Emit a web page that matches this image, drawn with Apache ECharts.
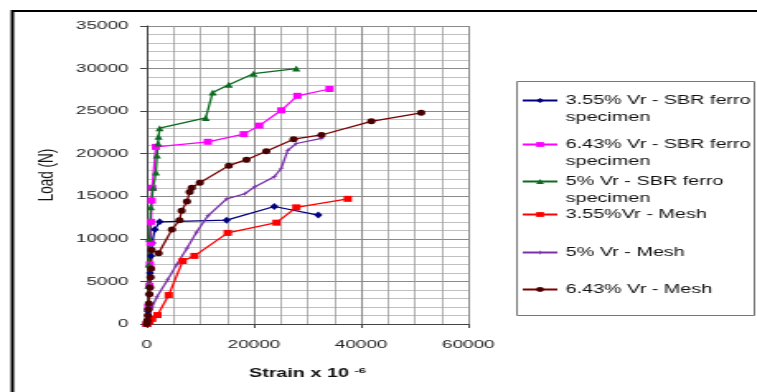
<!DOCTYPE html>
<html>
<head>
<meta charset="utf-8">
<script src="https://cdn.jsdelivr.net/npm/echarts@6/dist/echarts.min.js"></script>
<style>
html,body{margin:0;padding:0;background:#fff;overflow:hidden;}
#c{width:459px;height:392px;transform:scaleX(1.649);transform-origin:0 0;}
</style>
</head>
<body>
<div id="c"></div>
<script>
// ---- data (strain x 10^-6, load N) ----
var seriesNames = [
  '3.55% Vr - SBR ferro specimen',
  '6.43% Vr - SBR ferro specimen',
  '5% Vr - SBR ferro specimen',
  '3.55%Vr - Mesh',
  '5% Vr - Mesh',
  '6.43% Vr - Mesh'
];
var s1Strain = [0, 200, 400, 600, 800, 1000, 1500, 2400, 14900, 23800, 32000];
var s1Load   = [0, 1500, 3500, 6000, 8000, 9500, 11100, 12000, 12200, 13800, 12800];

var s2Strain = [0, 300, 500, 600, 700, 800, 900, 1000, 1700, 11400, 18100, 21000, 25100, 28100, 34100];
var s2Load   = [0, 2000, 4500, 7000, 9500, 12000, 14500, 16000, 20800, 21400, 22300, 23300, 25100, 26800, 27600];

var s3Strain = [0, 200, 300, 400, 500, 750, 1200, 1700, 1900, 2100, 2200, 2400, 11000, 12300, 15300, 19900, 27900];
var s3Load   = [0, 2000, 4500, 7000, 10000, 13700, 16000, 17800, 19800, 21200, 22000, 23000, 24200, 27200, 28100, 29400, 30000];

var s4Strain = [0, 500, 1000, 2000, 4100, 6700, 8900, 15100, 24200, 27900, 37500];
var s4Load   = [0, 300, 600, 1050, 3400, 7400, 8000, 10700, 11900, 13700, 14700];

var s5Strain = [0, 500, 1000, 1900, 3900, 5600, 7500, 9300, 11400, 14900, 18300, 20100, 23800, 25100, 26300, 27900, 32600];
var s5Load   = [0, 1000, 2000, 3200, 5200, 7000, 8900, 10800, 12700, 14700, 15300, 16100, 17300, 18300, 20400, 21200, 21800];

var s6Strain = [0, 100, 200, 300, 400, 500, 600, 700, 800, 900, 2200, 4700, 6100, 6500, 7500, 8000, 8400, 9900, 15300, 18600, 22300, 27400, 32600, 41900, 51200];
var s6Load   = [0, 400, 1000, 1700, 2400, 3500, 4300, 5500, 6500, 8700, 8300, 11100, 12200, 13300, 14400, 15500, 16000, 16600, 18600, 19300, 20300, 21700, 22200, 23800, 24800];

var xTicks = [0, 20000, 40000, 60000];
var yTicks = [0, 5000, 10000, 15000, 20000, 25000, 30000, 35000];

function zip(a, b) { return a.map(function (v, i) { return [v, b[i]]; }); }

var styles = [
  {color: '#000080', symbol: 'diamond', size: [5, 7]},
  {color: '#ff00ff', symbol: 'rect', size: [5, 6]},
  {color: '#0b6b1f', symbol: 'triangle', size: [5, 6]},
  {color: '#ff0000', symbol: 'rect', size: [5, 6]},
  {color: '#7a30a8', symbol: 'path://M0,-5L1,-1L5,0L1,1L0,5L-1,1L-5,0L-1,-1Z', size: [4, 6]},
  {color: '#7a0000', symbol: 'circle', size: [5, 6]}
];
var dataSets = [zip(s1Strain, s1Load), zip(s2Strain, s2Load), zip(s3Strain, s3Load),
                zip(s4Strain, s4Load), zip(s5Strain, s5Load), zip(s6Strain, s6Load)];

var series = dataSets.map(function (d, i) {
  return {
    name: seriesNames[i], type: 'line', data: d,
    symbol: styles[i].symbol, symbolSize: styles[i].size,
    showAllSymbol: true, animation: false,
    lineStyle: {color: styles[i].color, width: 1.3},
    itemStyle: {color: i === 5 ? '#4a0000' : styles[i].color}
  };
});

// icon centre y for each legend entry
var legendIconY = [99, 143, 180, 214, 252, 289];
var legends = seriesNames.map(function (n, i) {
  var two = i < 3;
  return {
    data: [n], left: 316, top: legendIconY[i] - (two ? 24 : 8), orient: 'vertical', padding: 0,
    itemWidth: 21, itemHeight: 6, selectedMode: false,
    formatter: function (name) {
      return name.indexOf(' specimen') >= 0 ? '\n' + name.replace(' specimen', '\nspecimen') : name;
    },
    textStyle: {fontFamily: 'Liberation Sans', fontSize: 12, color: '#111', lineHeight: 17}
  };
});

function plain(v) { return String(v); }

var chart = echarts.init(document.getElementById('c'), null, {renderer: 'canvas'});
chart.setOption({
  backgroundColor: '#fff',
  animation: false,
  grid: {left: 89, right: 175, top: 26, bottom: 68},
  legend: legends,
  graphic: [
    {type: 'rect', shape: {x: 7.5, y: 11, width: 470, height: 400},
     style: {fill: 'none', stroke: '#000', lineWidth: 2}, silent: true},
    {type: 'rect', shape: {x: 313.5, y: 81.5, width: 144, height: 234},
     style: {fill: '#fff', stroke: '#777', lineWidth: 1}, silent: true, z: -1}
  ],
  xAxis: {
    type: 'value', min: 0, max: 60000, interval: 20000,
    name: 'Strain x 10 {sup|-6}', nameLocation: 'middle', nameGap: 43,
    nameTextStyle: {fontFamily: 'Liberation Sans', fontSize: 12, fontWeight: 'bold', color: '#111',
      rich: {sup: {fontFamily: 'Liberation Sans', fontSize: 8, fontWeight: 'bold', color: '#111', verticalAlign: 'top', padding: [0, 0, 6, 0]}}},
    axisLine: {lineStyle: {color: '#444', width: 1}},
    axisTick: {show: true, length: 4, lineStyle: {color: '#444'}},
    axisLabel: {fontFamily: 'Liberation Sans', fontSize: 11.5, color: '#222', margin: 15,
      customValues: xTicks, formatter: plain},
    splitLine: {show: true, lineStyle: {color: '#8a8a8a', width: 1}},
    minorTick: {show: false, splitNumber: 4},
    minorSplitLine: {show: true, lineStyle: {color: '#9a9a9a', width: 0.8}}
  },
  yAxis: {
    type: 'value', min: 0, max: 35000, interval: 5000,
    name: 'Load (N)', nameLocation: 'middle', nameGap: 54, nameRotate: 90,
    nameTextStyle: {fontFamily: 'Liberation Sans', fontSize: 13.5, color: '#111'},
    axisLine: {show: true, lineStyle: {color: '#444', width: 1}},
    axisTick: {show: true, length: 4, lineStyle: {color: '#444'}},
    axisLabel: {fontFamily: 'Liberation Sans', fontSize: 11.5, color: '#222', margin: 11,
      customValues: yTicks, formatter: plain},
    splitLine: {show: true, lineStyle: {color: '#8a8a8a', width: 1}},
    minorTick: {show: false, splitNumber: 5},
    minorSplitLine: {show: true, lineStyle: {color: '#b0b0b0', width: 0.8}}
  },
  series: series
});
</script>
</body>
</html>
